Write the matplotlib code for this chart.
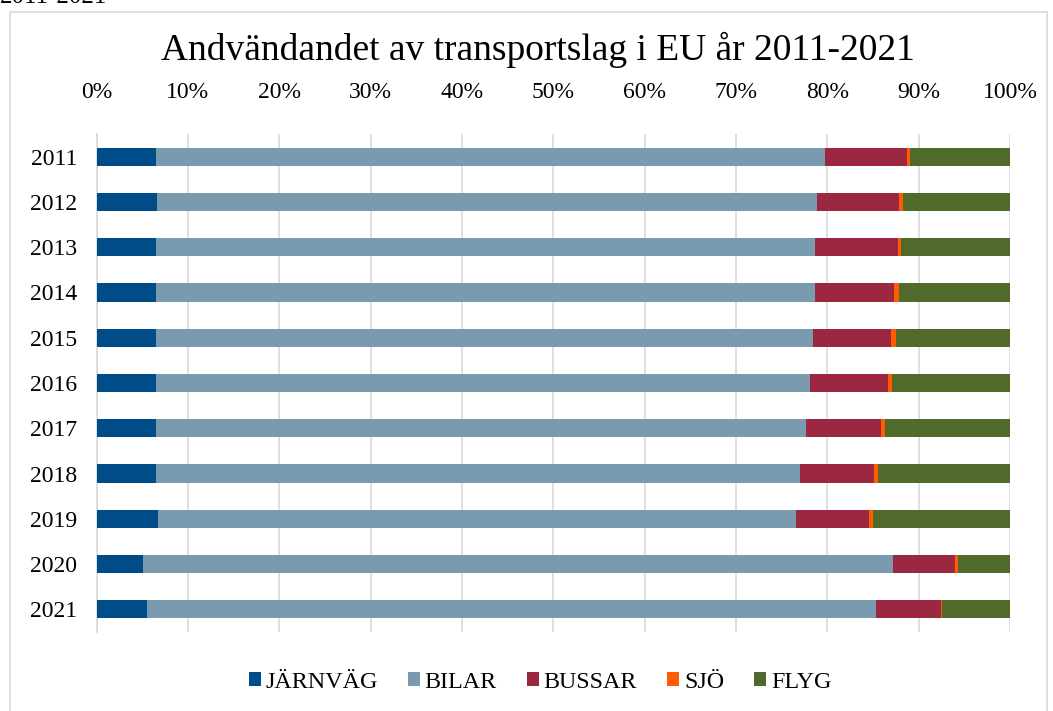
import matplotlib.pyplot as plt
import numpy as np
from matplotlib.patches import Rectangle

plt.rcParams['font.family'] = ['Liberation Serif', 'DejaVu Serif']

years = ['2011', '2012', '2013', '2014', '2015', '2016',
         '2017', '2018', '2019', '2020', '2021']

# shares in percent
jarnvag = [6.5, 6.6, 6.5, 6.5, 6.5, 6.5, 6.5, 6.5, 6.7, 5.1, 5.5]
bilar = [73.2, 72.3, 72.1, 72.1, 71.9, 71.6, 71.2, 70.5, 69.9, 82.1, 79.8]
bussar = [9.0, 9.0, 9.1, 8.7, 8.6, 8.5, 8.2, 8.1, 8.0, 6.8, 7.1]
sjo = [0.4, 0.4, 0.4, 0.5, 0.5, 0.5, 0.4, 0.4, 0.4, 0.3, 0.2]
flyg = [100 - a - b - c - d for a, b, c, d in zip(jarnvag, bilar, bussar, sjo)]

series = [('JÄRNVÄG', jarnvag, '#004C89'),
          ('BILAR', bilar, '#7A9AAF'),
          ('BUSSAR', bussar, '#9C2740'),
          ('SJÖ', sjo, '#FF5B00'),
          ('FLYG', flyg, '#506A2C')]

fig = plt.figure(figsize=(10.53, 7.11), dpi=100)
ax = fig.add_axes([96.5 / 1053, 1 - 632 / 711, (1010 - 96.5) / 1053, (632 - 134) / 711])

# chart frame and the clipped caption above it
fig.patches.append(Rectangle((10 / 1053, -0.1), 1037 / 1053, 1.1 - 12 / 711,
                             transform=fig.transFigure, fill=False,
                             edgecolor='#D9D9D9', linewidth=1.2))
fig.text(0, 1 + 14 / 711, '2011-2021', fontsize=18, va='top', ha='left')

y = np.arange(len(years))
left = np.zeros(len(years))
for name, vals, col in series:
    ax.barh(y, vals, left=left, height=0.4, color=col, label=name, zorder=3)
    left += np.array(vals)

ax.set_xlim(0, 100)
ax.set_ylim(len(years) - 0.5, -0.5)
ax.set_xticks(np.arange(0, 101, 10))
ax.set_xticklabels([f'{v}%' for v in range(0, 101, 10)])
ax.set_yticks(y)
ax.set_yticklabels(years)
ax.xaxis.tick_top()
ax.tick_params(axis='x', length=0, pad=22, labelsize=17)
ax.tick_params(axis='y', length=0, pad=14, labelsize=17)
ax.grid(axis='x', color='#D9D9D9', linewidth=1.2, zorder=0)
for s in ['top', 'right', 'bottom']:
    ax.spines[s].set_visible(False)
ax.spines['left'].set_color('#D9D9D9')
ax.spines['left'].set_linewidth(1.2)

fig.text(538 / 1053, 1 - 50 / 711, 'Andvändandet av transportslag i EU år 2011-2021',
         fontsize=27, ha='center', va='center')

fig.legend(loc='center', bbox_to_anchor=(540 / 1053, 1 - 682 / 711), ncol=5,
           frameon=False, fontsize=17.3, handlelength=0.5, handleheight=0.5,
           handletextpad=0.2, columnspacing=1.25)

fig.savefig('out.png', dpi=100)
